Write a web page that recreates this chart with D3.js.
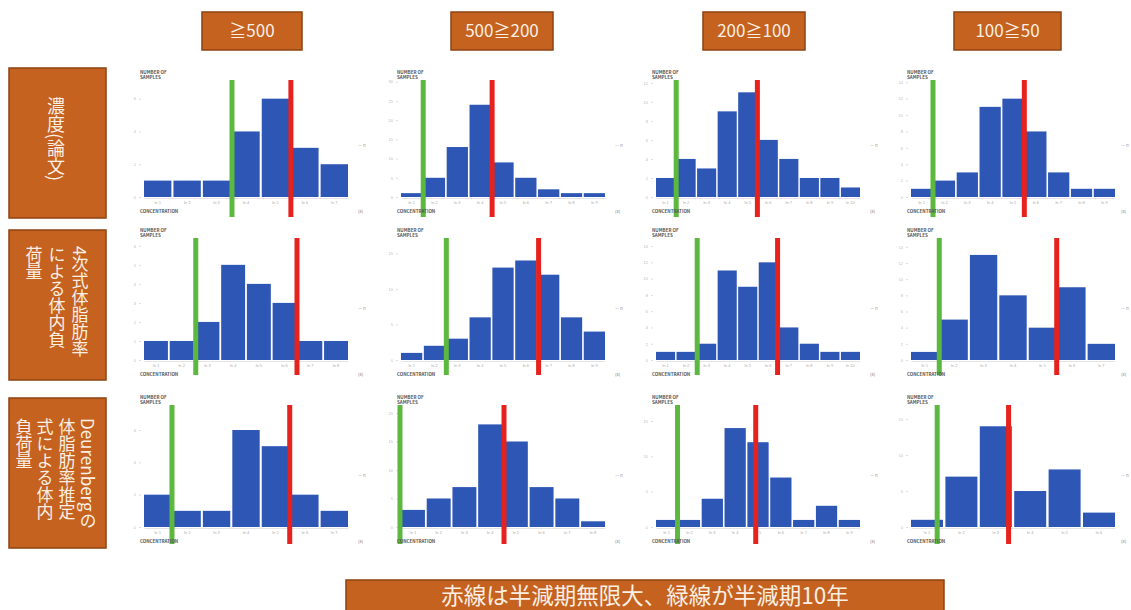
<!DOCTYPE html>
<html>
<head>
<meta charset="utf-8">
<script src="https://cdn.jsdelivr.net/npm/d3@7"></script>
<style>
  html, body { margin: 0; padding: 0; background: #fff; }
  svg { display: block; font-family: "Noto Sans CJK JP", "Noto Sans", sans-serif; }
</style>
</head>
<body>
<svg id="chart" width="1131" height="610"></svg>
<script>
// column headers (concentration classes) and row labels (vertical columns of text)
var headers = ["≧500", "500≧200", "200≧100", "100≧50"];
var rowLabels = [
  ["濃度(論文)"],
  ["4次式体脂肪率", "による体内負", "荷量"],
  ["Deurenbergの", "体脂肪率推定", "式による体内", "負荷量"]
];
var note = "赤線は半減期無限大、緑線が半減期10年";

// histogram counts per panel [row][col]
var counts = [
  [[1, 1, 1, 4, 6, 3, 2], [1, 5, 13, 24, 9, 5, 2, 1, 1], [2, 4, 3, 9, 11, 6, 4, 2, 2, 1], [1, 2, 3, 11, 12, 8, 3, 1, 1]],
  [[1, 1, 2, 5, 4, 3, 1, 1], [1, 2, 3, 6, 13, 14, 12, 6, 4], [1, 1, 2, 11, 9, 12, 4, 2, 1, 1], [1, 5, 13, 8, 4, 9, 2]],
  [[2, 1, 1, 6, 5, 2, 1], [3, 5, 7, 18, 15, 7, 5, 1], [1, 1, 4, 14, 12, 7, 1, 3, 1], [1, 7, 14, 5, 8, 2]]
];
// y axis maximum per panel
var yMax = [
  [7.2, 30.7, 12.4, 14.4],
  [6.2, 16.6, 14.5, 14.6],
  [7.3, 20.7, 16.7, 16.4]
];
// marker lines, position in bin units along the x axis
var greenPos = [
  [3.02, 0.98, 0.99, 0.97],
  [2.03, 2.0, 2.02, 0.97],
  [0.96, -0.04, 0.95, 0.77]
];
var redPos = [
  [5.04, 4.02, 4.97, 5.0],
  [6.0, 6.07, 5.96, 5.0],
  [5.0, 4.04, 4.4, 2.87]
];

var svg = d3.select("#chart");
var orange = "#c5621f", orangeEdge = "#8c4312", boxText = "#fbefe4";

// header boxes
var headerX = [202, 451, 703, 954];
var headerW = [100, 102, 102, 107];
headers.forEach(function(h, i) {
  svg.append("rect")
    .attr("x", headerX[i]).attr("y", 12)
    .attr("width", headerW[i]).attr("height", 38)
    .attr("fill", orange).attr("stroke", orangeEdge).attr("stroke-width", 1.5);
  svg.append("text")
    .attr("x", headerX[i] + headerW[i] / 2).attr("y", 37)
    .attr("text-anchor", "middle")
    .attr("fill", boxText)
    .style("font-size", "17px")
    .text(h);
});

// row label boxes with vertical text
var rowY = [68, 230, 398];
var rowColX = [[56], [80, 57, 34], [88, 67, 45, 24]];
var rowTextY = [97, 246, 418];
rowLabels.forEach(function(cols, r) {
  svg.append("rect")
    .attr("x", 9).attr("y", rowY[r])
    .attr("width", 97).attr("height", 150)
    .attr("fill", orange).attr("stroke", orangeEdge).attr("stroke-width", 1.5);
  cols.forEach(function(c, k) {
    svg.append("text")
      .attr("x", rowColX[r][k]).attr("y", rowTextY[r])
      .attr("fill", boxText)
      .attr("dominant-baseline", "central")
      .style("writing-mode", "vertical-rl")
      .style("font-size", r === 0 ? "18px" : "17px")
      .text(c);
  });
});

// panels
var plotX = [144, 401, 656, 911];
var plotW = 204;
var baseY = [197, 360, 527];
var plotH = 118;
var lineTop = [80, 238, 405];
var lineBottom = [217, 375, 544];

counts.forEach(function(row, r) {
  row.forEach(function(vals, c) {
    var top = baseY[r] - plotH;
    var g = svg.append("g")
      .attr("transform", "translate(" + plotX[c] + "," + top + ")");

    var x = d3.scaleBand()
      .domain(d3.range(vals.length))
      .range([0, plotW])
      .paddingInner(0.07);
    var xl = d3.scaleLinear().domain([0, vals.length]).range([0, plotW]);
    var y = d3.scaleLinear().domain([0, yMax[r][c]]).range([plotH, 0]);

    // faint y axis
    var ya = g.append("g")
      .attr("transform", "translate(-3,0)")
      .call(d3.axisLeft(y).ticks(5).tickSize(2));
    ya.select(".domain").remove();
    ya.selectAll("line").attr("stroke", "#ddd");
    ya.selectAll("text").attr("fill", "#bbb").style("font-size", "4px");

    // faint x tick labels
    var xa = g.append("g")
      .attr("transform", "translate(0," + (plotH + 1) + ")")
      .call(d3.axisBottom(x).tickSize(0).tickFormat(function(d) { return "ln " + (d + 1); }));
    xa.select(".domain").attr("stroke", "#e4e4e4");
    xa.selectAll("text").attr("fill", "#aaa").style("font-size", "4px");

    // bars
    g.selectAll(".bar")
      .data(vals)
      .enter().append("rect")
      .attr("class", "bar")
      .attr("x", function(d, i) { return x(i); })
      .attr("y", function(d) { return y(d); })
      .attr("width", x.bandwidth())
      .attr("height", function(d) { return plotH - y(d); })
      .attr("fill", "#2e56b5");

    // small texts around the plot
    var rightX = Math.min(plotX[c] + plotW + 10, 1121);
    svg.append("text")
      .attr("x", plotX[c] - 4).attr("y", lineTop[r] - 6)
      .attr("fill", "#555").style("font-size", "4.5px").style("font-weight", "bold")
      .text("NUMBER OF");
    svg.append("text")
      .attr("x", plotX[c] - 4).attr("y", lineTop[r] - 1)
      .attr("fill", "#555").style("font-size", "4.5px").style("font-weight", "bold")
      .text("SAMPLES");
    svg.append("text")
      .attr("x", plotX[c] - 4).attr("y", baseY[r] + 16)
      .attr("fill", "#555").style("font-size", "4.5px").style("font-weight", "bold")
      .text("CONCENTRATION");
    svg.append("text")
      .attr("x", rightX).attr("y", baseY[r] + 16)
      .attr("fill", "#777").style("font-size", "4.5px")
      .text("(x)");
    svg.append("text")
      .attr("x", rightX).attr("y", baseY[r] - 50)
      .attr("fill", "#999").style("font-size", "4.5px")
      .text("— n");

    // marker lines
    g.append("line")
      .attr("x1", xl(greenPos[r][c])).attr("x2", xl(greenPos[r][c]))
      .attr("y1", lineTop[r] - top).attr("y2", lineBottom[r] - top)
      .attr("stroke", "#5cb83e").attr("stroke-width", 5);
    g.append("line")
      .attr("x1", xl(redPos[r][c])).attr("x2", xl(redPos[r][c]))
      .attr("y1", lineTop[r] - top).attr("y2", lineBottom[r] - top)
      .attr("stroke", "#e5221d").attr("stroke-width", 5);
  });
});

// bottom note banner
svg.append("rect")
  .attr("x", 346).attr("y", 580)
  .attr("width", 598).attr("height", 34)
  .attr("fill", orange).attr("stroke", orangeEdge).attr("stroke-width", 1.5);
svg.append("text")
  .attr("x", 645).attr("y", 604)
  .attr("text-anchor", "middle")
  .attr("fill", boxText)
  .style("font-size", "22.5px")
  .text(note);
</script>
</body>
</html>
